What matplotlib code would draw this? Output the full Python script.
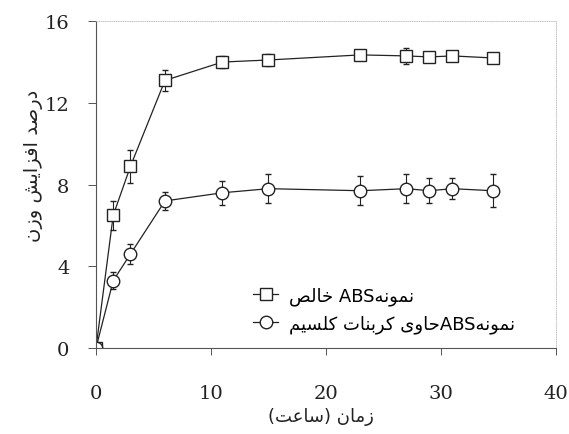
import matplotlib
matplotlib.use('Agg')
import matplotlib.pyplot as plt
from matplotlib.lines import Line2D

# time (hours) and weight gain (%) for the two sample types
hours = [0, 1.5, 3, 6, 11, 15, 23, 27, 29, 31, 34.5]
pure_gain = [0, 6.5, 8.9, 13.1, 14.0, 14.1, 14.35, 14.3, 14.25, 14.3, 14.2]
pure_err = [0, 0.7, 0.8, 0.5, 0.3, 0.3, 0.1, 0.4, 0.25, 0.15, 0.15]
caco3_gain = [0, 3.3, 4.6, 7.2, 7.6, 7.8, 7.7, 7.8, 7.7, 7.8, 7.7]
caco3_err = [0, 0.4, 0.5, 0.45, 0.6, 0.7, 0.7, 0.7, 0.6, 0.5, 0.8]

xticks = [0, 10, 20, 30, 40]
yticks = [0, 4, 8, 12, 16]

ylabel_txt = 'درصد افزایش وزن'
xlabel_txt = 'زمان (ساعت)'
legend_txt = ['نمونهABS خالص', 'نمونهABSحاوی کربنات کلسیم']

# presentation forms: isolated, final, initial, medial
FORMS = {
    'ا': ('\uFE8D', '\uFE8E', None, None),
    'د': ('\uFEA9', '\uFEAA', None, None),
    'ر': ('\uFEAD', '\uFEAE', None, None),
    'ز': ('\uFEAF', '\uFEB0', None, None),
    'و': ('\uFEED', '\uFEEE', None, None),
    'ن': ('\uFEE5', '\uFEE6', '\uFEE7', '\uFEE8'),
    'م': ('\uFEE1', '\uFEE2', '\uFEE3', '\uFEE4'),
    'ه': ('\uFEE9', '\uFEEA', '\uFEEB', '\uFEEC'),
    'ص': ('\uFEB9', '\uFEBA', '\uFEBB', '\uFEBC'),
    'ف': ('\uFED1', '\uFED2', '\uFED3', '\uFED4'),
    'ش': ('\uFEB5', '\uFEB6', '\uFEB7', '\uFEB8'),
    'ی': ('\uFBFC', '\uFBFD', '\uFBFE', '\uFBFF'),
    'خ': ('\uFEA5', '\uFEA6', '\uFEA7', '\uFEA8'),
    'ل': ('\uFEDD', '\uFEDE', '\uFEDF', '\uFEE0'),
    'ح': ('\uFEA1', '\uFEA2', '\uFEA3', '\uFEA4'),
    'ک': ('\uFB8E', '\uFB8F', '\uFB90', '\uFB91'),
    'ب': ('\uFE8F', '\uFE90', '\uFE91', '\uFE92'),
    'ت': ('\uFE95', '\uFE96', '\uFE97', '\uFE98'),
    'س': ('\uFEB1', '\uFEB2', '\uFEB3', '\uFEB4'),
    'ع': ('\uFEC9', '\uFECA', '\uFECB', '\uFECC'),
}


def farsi(s):
    out = []
    for i, c in enumerate(s):
        if c not in FORMS:
            out.append(c)
            continue
        f = FORMS[c]
        prev = s[i - 1] if i > 0 else ''
        nxt = s[i + 1] if i + 1 < len(s) else ''
        join_prev = prev in FORMS and FORMS[prev][2] is not None
        join_next = f[2] is not None and nxt in FORMS
        if join_prev and join_next:
            out.append(f[3])
        elif join_prev:
            out.append(f[1])
        elif join_next:
            out.append(f[2])
        else:
            out.append(f[0])
    # visual order: reverse, but keep latin runs left to right
    rev = ''.join(out)[::-1]
    res, run = [], ''
    for c in rev:
        if c.isascii() and c.isalnum():
            run += c
        else:
            if run:
                res.append(run[::-1])
                run = ''
            res.append({'(': ')', ')': '('}.get(c, c))
    if run:
        res.append(run[::-1])
    return ''.join(res)


fig = plt.figure(figsize=(5.69, 4.35), dpi=100)
ax = fig.add_axes([0.1687, 0.1977, 0.8083, 0.7513])

ink = '#222222'
ax.errorbar(hours, pure_gain, yerr=pure_err, color=ink, lw=0.9, marker='s',
            ms=8.5, mfc='white', mec=ink, mew=1.0, capsize=2, elinewidth=0.8,
            capthick=0.8)
ax.errorbar(hours, caco3_gain, yerr=caco3_err, color=ink, lw=0.9, marker='o',
            ms=9, mfc='white', mec=ink, mew=1.0, capsize=2, elinewidth=0.8,
            capthick=0.8)

ax.set_xlim(0, 40)
ax.set_ylim(0, 16)
ax.set_xticks(xticks)
ax.set_yticks(yticks)
ax.tick_params(axis='x', direction='out', length=5, width=0.7, pad=21,
               labelsize=14, color='#555555')
ax.tick_params(axis='y', direction='out', length=6, width=0.7, pad=13,
               labelsize=14, color='#555555')
for lab in ax.get_xticklabels() + ax.get_yticklabels():
    lab.set_family('DejaVu Serif')
    lab.set_color('#222222')

for side in ['left', 'bottom']:
    ax.spines[side].set_color('#555555')
    ax.spines[side].set_linewidth(0.8)
for side in ['top', 'right']:
    ax.spines[side].set_color('#bbbbbb')
    ax.spines[side].set_linewidth(0.6)
    ax.spines[side].set_linestyle(':')

ax.set_ylabel(farsi(ylabel_txt), fontsize=14, family='DejaVu Sans',
              color='#222222')
ax.yaxis.set_label_coords(-0.115, 0.56)
ax.set_xlabel(farsi(xlabel_txt), fontsize=13, family='DejaVu Sans',
              color='#222222')
ax.xaxis.set_label_coords(0.49, -0.18)

handles = [
    Line2D([], [], color=ink, lw=0.9, marker='s', ms=8.5, mfc='white',
           mec=ink, mew=1.0),
    Line2D([], [], color=ink, lw=0.9, marker='o', ms=9, mfc='white',
           mec=ink, mew=1.0),
]
leg = ax.legend(handles, [farsi(t) for t in legend_txt], loc='upper left',
                bbox_to_anchor=(0.322, 0.215), frameon=False, borderpad=0,
                handlelength=1.4, handletextpad=0.6, labelspacing=0.5,
                prop={'family': 'DejaVu Sans', 'size': 13})

fig.savefig('out.png', dpi=100)
